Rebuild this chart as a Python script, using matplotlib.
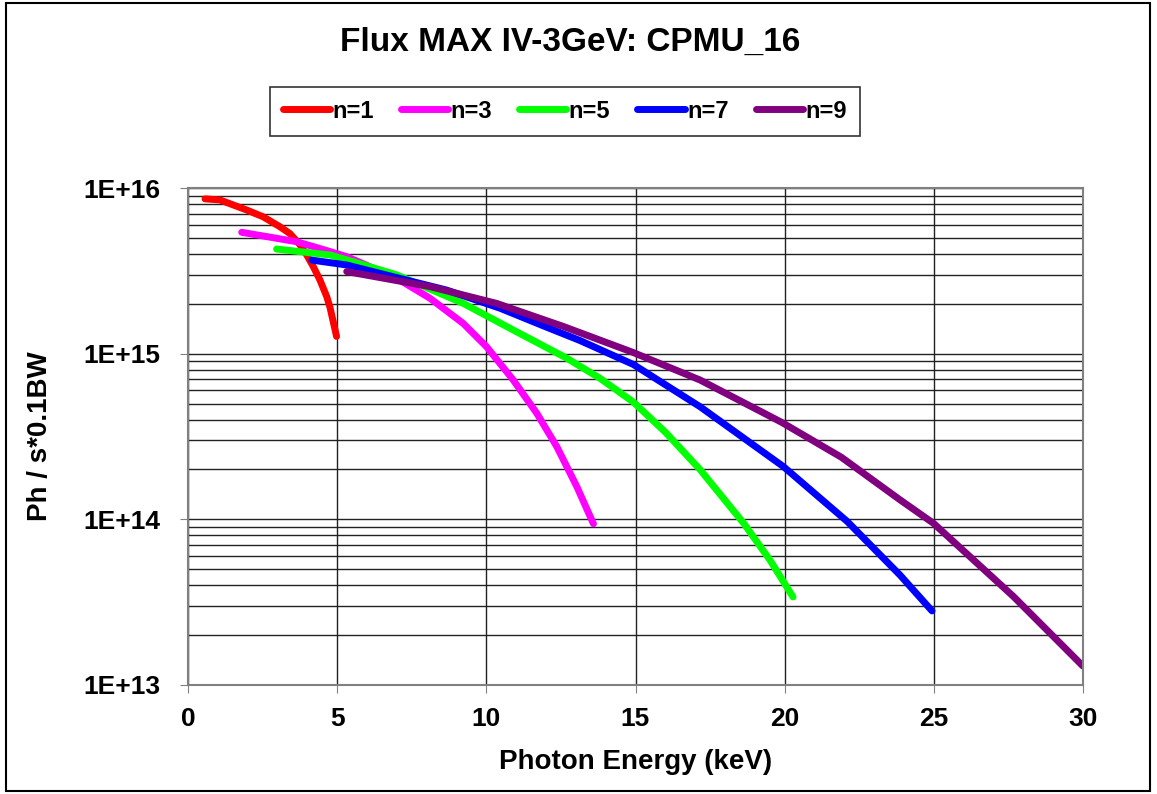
import numpy as np
import matplotlib
matplotlib.use("Agg")
from matplotlib import pyplot as plt
from matplotlib.patches import Rectangle

plt.rcParams['font.family'] = ['Liberation Sans', 'DejaVu Sans']
plt.rcParams['font.weight'] = 'bold'

# values (keV, Ph/s/0.1%BW)
e1 = [0.57, 1.07, 1.97, 2.52, 3.08, 3.42, 3.75, 3.98, 4.2, 4.42, 4.65, 4.76, 4.98]
f1 = [8.6e15, 8.47e15, 7.36e15, 6.7e15, 5.84e15, 5.3e15, 4.55e15, 3.94e15, 3.35e15, 2.79e15, 2.21e15, 1.9e15, 1.27e15]

e3 = [1.8, 3.64, 4.77, 5.32, 7.0, 8.11, 9.23, 10.01, 10.9, 11.69, 12.36, 13.03, 13.59]
f3 = [5.4e15, 4.74e15, 4.13e15, 3.85e15, 2.85e15, 2.16e15, 1.52e15, 1.1e15, 6.94e14, 4.37e14, 2.75e14, 1.58e14, 9.4e13]

e5 = [2.97, 4.77, 7.0, 9.23, 10.9, 12.69, 13.81, 14.93, 16.0, 17.16, 18.62, 19.5, 20.28]
f5 = [4.28e15, 3.94e15, 2.99e15, 2.01e15, 1.39e15, 9.4e14, 7.1e14, 5.1e14, 3.36e14, 2.0e14, 9.5e13, 5.7e13, 3.4e13]

e7 = [4.15, 5.32, 6.5, 8.67, 10.46, 12.0, 13.14, 14.93, 17.16, 19.96, 22.1, 23.87, 24.94]
f7 = [3.67e15, 3.43e15, 3.03e15, 2.42e15, 1.88e15, 1.45e15, 1.2e15, 8.6e14, 4.79e14, 2.08e14, 9.7e13, 4.6e13, 2.8e13]

e9 = [5.32, 8.11, 10.35, 12.58, 14.9, 17.16, 19.9, 21.9, 23.87, 24.99, 27.67, 30.0]
f9 = [3.13e15, 2.54e15, 2.01e15, 1.46e15, 1.02e15, 6.94e14, 3.85e14, 2.37e14, 1.31e14, 9.46e13, 3.42e13, 1.3e13]

fig = plt.figure(figsize=(11.57, 7.94), dpi=100, facecolor="w")
ax = fig.add_axes([188/1157, 1-685/794, (1083-188)/1157, (685-188)/794])

ax.plot(e1, f1, color="red", lw=5, solid_capstyle="round", label="n=1")
ax.plot(e3, f3, color="magenta", lw=5, solid_capstyle="round", label="n=3")
ax.plot(e5, f5, color="lime", lw=5, solid_capstyle="round", label="n=5")
ax.plot(e7, f7, color="blue", lw=5, solid_capstyle="round", label="n=7")
ax.plot(e9, f9, color="purple", lw=5, solid_capstyle="round", label="n=9")

ax.set_yscale("log")
ax.set_xlim(0, 30)
ax.set_ylim(1e13, 1e16)
ax.set_xticks(range(0, 31, 5))
ax.set_yticks([1e13, 1e14, 1e15, 1e16])
ax.set_yticklabels(["1E+13", "1E+14", "1E+15", "1E+16"])
ax.grid(which="major", color="#222222", lw=1)
ax.grid(which="minor", axis="y", color="#222222", lw=1)
ax.set_axisbelow(True)
ax.tick_params(which="minor", left=False)
ax.tick_params(which="major", labelsize=19, length=6, color="#808080", direction="out")
ax.tick_params(axis="x", pad=10)
ax.tick_params(axis="y", pad=14)
for s in ax.spines.values():
    s.set_color("#808080")
    s.set_linewidth(1.5)

ax.set_xlabel("Photon Energy (keV)", fontsize=20, fontweight="bold", labelpad=13)
ax.set_ylabel("Ph / s*0.1BW", fontsize=20, fontweight="bold", labelpad=22)
fig.suptitle("Flux MAX IV-3GeV: CPMU_16", fontsize=24, fontweight="bold",
             x=0.493, y=0.947, va="center")

leg = fig.legend(loc="center", bbox_to_anchor=(0.488, 0.860), ncol=5, fontsize=17,
                 handlelength=2.0, handletextpad=0.1, columnspacing=1.15,
                 fancybox=False, edgecolor="black", borderpad=0.55)
leg.get_frame().set_linewidth(1.2)

fig.patches.append(Rectangle((0.005, 0.004), 0.989, 0.992, transform=fig.transFigure,
                             fill=False, edgecolor="black", lw=1.5))

plt.savefig("out.png", dpi=100)
